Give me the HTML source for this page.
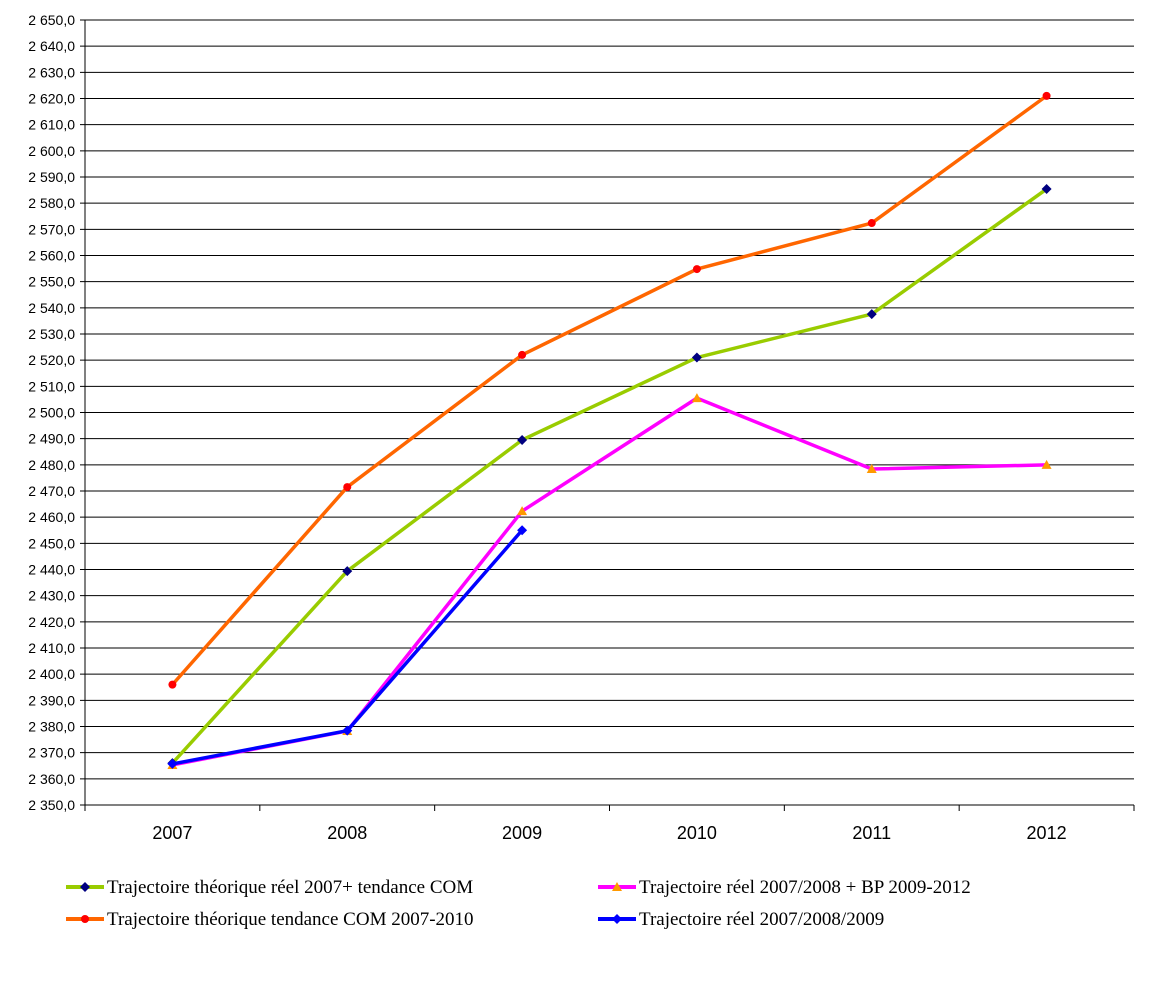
<!DOCTYPE html>
<html><head><meta charset="utf-8"><style>
html,body{margin:0;padding:0;background:#fff;}
svg{display:block;}
</style></head><body>
<svg id="chart" width="1165" height="983" xmlns="http://www.w3.org/2000/svg">
<g id="grid"></g>
<g id="axes"></g>
<g id="series"></g>
<g id="legend"></g>
</svg>
<script>
const categories = ["2007","2008","2009","2010","2011","2012"];
const greenValues = [2366, 2439.4, 2489.5, 2521, 2537.6, 2585.4];
const orangeValues = [2396, 2471.5, 2522, 2554.8, 2572.4, 2621];
const magentaValues = [2365.3, 2378.3, 2462.3, 2505.5, 2478.4, 2480];
const blueValues = [2365.7, 2378.4, 2455];
const yTicks = [2350,2360,2370,2380,2390,2400,2410,2420,2430,2440,2450,2460,2470,2480,2490,2500,2510,2520,2530,2540,2550,2560,2570,2580,2590,2600,2610,2620,2630,2640,2650];

const NS="http://www.w3.org/2000/svg";
const L=85,R=1134,T=20,B=805,yMin=2350,yMax=2650;
const cw=(R-L)/categories.length;
function xPos(i){return L+cw*(i+0.5);}
function yPos(v){return B-(v-yMin)/(yMax-yMin)*(B-T);}
function el(tag,attrs,parent){const e=document.createElementNS(NS,tag);for(const k in attrs)e.setAttribute(k,attrs[k]);parent.appendChild(e);return e;}
const grid=document.getElementById('grid'),axes=document.getElementById('axes'),series=document.getElementById('series'),legend=document.getElementById('legend');
const fmt=v=>{const s=v.toFixed(1).replace('.',',');return s.replace(/^(\d)(\d{3})/,'$1 $2');};
yTicks.forEach(v=>{
  const y=yPos(v);
  const g=el('line',{x1:L-5,x2:R,y1:y,y2:y,stroke:'#000','stroke-width':1},grid);
  
  
  const t=el('text',{x:L-10,y:y+5,'text-anchor':'end','font-family':'Liberation Sans, sans-serif','font-size':14,fill:'#000'},axes);
  t.textContent=fmt(v);
  
  
});
el('line',{x1:L,x2:L,y1:T,y2:B,stroke:'#000','stroke-width':1},axes);
for(let i=0;i<=categories.length;i++){
  const x=L+cw*i;
  el('line',{x1:x,x2:x,y1:B,y2:B+6,stroke:'#000','stroke-width':1},axes);
}
categories.forEach((c,i)=>{
  const t=el('text',{x:xPos(i),y:839,'text-anchor':'middle','font-family':'Liberation Sans, sans-serif','font-size':18,fill:'#000'},axes);
  t.textContent=c;
  
  
});
function marker(type,x,y,color,parent){
  if(type==='diamond')return el('polygon',{points:`${x},${y-5} ${x+5},${y} ${x},${y+5} ${x-5},${y}`,fill:color},parent);
  if(type==='circle')return el('circle',{cx:x,cy:y,r:4,fill:color},parent);
  return el('polygon',{points:`${x},${y-5} ${x+5},${y+4} ${x-5},${y+4}`,fill:color},parent);
}
function drawSeries(vals,color,mtype,mcolor,name){
  const g=el('g',{},series);
  
  
  el('polyline',{points:vals.map((v,i)=>xPos(i)+','+yPos(v)).join(' '),fill:'none',stroke:color,'stroke-width':3.5,'stroke-linejoin':'round'},g);
  vals.forEach((v,i)=>{const m=marker(mtype,xPos(i),yPos(v),mcolor,g);
    
    });
}
drawSeries(orangeValues,'#ff6600','circle','#ff0000','series-orange');
drawSeries(greenValues,'#99cc00','diamond','#000080','series-green');
drawSeries(magentaValues,'#ff00ff','triangle','#ff9900','series-magenta');
drawSeries(blueValues,'#0000ff','diamond','#0000ff','series-blue');
const items=[
  {x:66,y:887,c:'#99cc00',m:'diamond',mc:'#000080',t:'Trajectoire théorique réel 2007+ tendance COM'},
  {x:66,y:919,c:'#ff6600',m:'circle',mc:'#ff0000',t:'Trajectoire théorique tendance COM 2007-2010'},
  {x:598,y:887,c:'#ff00ff',m:'triangle',mc:'#ff9900',t:'Trajectoire réel 2007/2008 + BP 2009-2012'},
  {x:598,y:919,c:'#0000ff',m:'diamond',mc:'#0000ff',t:'Trajectoire réel 2007/2008/2009'}
];
items.forEach(it=>{
  const g=el('g',{},legend);
  
  
  el('line',{x1:it.x,x2:it.x+38,y1:it.y,y2:it.y,stroke:it.c,'stroke-width':4},g);
  marker(it.m,it.x+19,it.y,it.mc,g);
  const t=el('text',{x:it.x+41,y:it.y+6,'font-family':'Liberation Serif, serif','font-size':19,fill:'#000'},g);
  t.textContent=it.t;
});
</script>
</body></html>
